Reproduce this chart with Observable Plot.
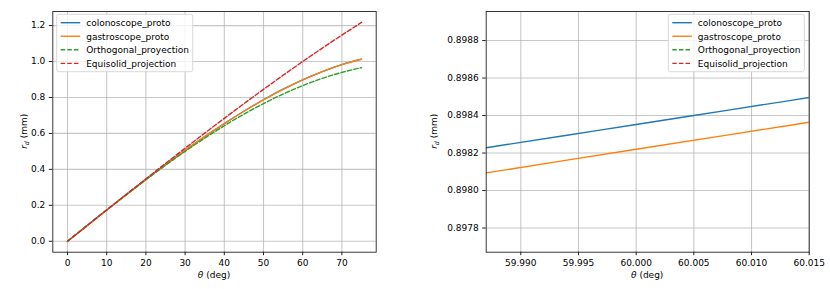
<!DOCTYPE html>
<html>
<head>
<meta charset="utf-8">
<script src="https://cdn.jsdelivr.net/npm/d3@7"></script>
<script src="https://cdn.jsdelivr.net/npm/@observablehq/plot@0.6"></script>
<style>
  html, body { margin: 0; padding: 0; background: white; }
  #wrap { position: relative; width: 830px; height: 289px; }
  #wrap > svg { position: absolute; top: 0; }
</style>
</head>
<body>
<div id="wrap"></div>
<script>
// ---- data ----
const seriesNames = ["colonoscope_proto", "gastroscope_proto", "Orthogonal_proyection", "Equisolid_projection"];
const seriesColors = ["#1f77b4", "#ff7f0e", "#2ca02c", "#d62728"];
const seriesDashed = [false, false, true, true];

const thetaDeg = [0, 5, 10, 15, 20, 25, 30, 35, 40, 45, 50, 55, 60, 65, 70, 75];
const colonoscopeR = [0, 0.08718, 0.17386, 0.25954, 0.34372, 0.42584, 0.50541, 0.58190, 0.65478, 0.72346, 0.78737, 0.84591, 0.89833, 0.94421, 0.98267, 1.01315];
const gastroscopeR = [0, 0.08718, 0.17386, 0.25954, 0.34370, 0.42583, 0.50540, 0.58188, 0.65473, 0.72338, 0.78724, 0.84572, 0.89819, 0.94402, 0.98253, 1.01301];
const orthogonalR  = [0, 0.08716, 0.17365, 0.25882, 0.34202, 0.42262, 0.50000, 0.57358, 0.64279, 0.70711, 0.76604, 0.81915, 0.86603, 0.90631, 0.93969, 0.96593];
const equisolidR   = [0, 0.08724, 0.17431, 0.26105, 0.34730, 0.43288, 0.51764, 0.60141, 0.68404, 0.76537, 0.84524, 0.92350, 1.00000, 1.07460, 1.14715, 1.21752];

// zoomed view near 60 deg
const thetaZoom = [59.987, 59.994, 60.000, 60.008, 60.015];
const colonoscopeZoom = [0.898228, 0.898295, 0.898352, 0.898429, 0.898496];
const gastroscopeZoom = [0.898094, 0.898162, 0.898220, 0.898297, 0.898364];

// ticks
const xTicksLeft = [0, 10, 20, 30, 40, 50, 60, 70];
const yTicksLeft = [0, 0.2, 0.4, 0.6, 0.8, 1.0, 1.2];
const xTicksRight = [59.990, 59.995, 60.000, 60.005, 60.010, 60.015];
const yTicksRight = [0.8978, 0.8980, 0.8982, 0.8984, 0.8986, 0.8988];

// ---- build tables ----
function table(xs, ys) { return xs.map((x, i) => ({x, y: ys[i]})); }
const leftSeries = [colonoscopeR, gastroscopeR, orthogonalR, equisolidR].map(ys => table(thetaDeg, ys));
const rightSeries = [colonoscopeZoom, gastroscopeZoom].map(ys => table(thetaZoom, ys));

const FONT = "DejaVu Sans, sans-serif";
const FS = 9;

function lineMarks(seriesList) {
  return seriesList.map((d, i) => Plot.line(d, {
    x: "x", y: "y", stroke: seriesColors[i], strokeWidth: 1.4,
    strokeDasharray: seriesDashed[i] ? "4.5,2.1" : null,
    curve: "monotone-x", clip: true
  }));
}

function makePlot(opts) {
  return Plot.plot({
    width: 415, height: 289,
    marginLeft: opts.ml, marginRight: opts.mr, marginTop: 11, marginBottom: 37.3,
    style: { fontFamily: FONT, fontSize: FS + "px", color: "#000", background: "transparent", overflow: "visible" },
    x: { domain: opts.xd, label: null },
    y: { domain: opts.yd, label: null },
    marks: [
      Plot.gridX(opts.xt, { stroke: "#b0b0b0", strokeOpacity: 0.7, strokeWidth: 1.1 }),
      Plot.gridY(opts.yt, { stroke: "#b0b0b0", strokeOpacity: 0.7, strokeWidth: 1.1 }),
      ...lineMarks(opts.series),
      Plot.frame({ stroke: "#222", strokeWidth: 0.9 }),
      Plot.axisX(opts.xt, { tickSize: 3.5, tickPadding: 3.5, tickFormat: opts.xf, stroke: "#222", fontSize: FS }),
      Plot.axisY(opts.yt, { tickSize: 3.5, tickPadding: 4, tickFormat: opts.yf, stroke: "#222", fontSize: FS })
    ]
  });
}

function addLabels(svg, xc, xlY, ylX, ylY) {
  const s = d3.select(svg);
  const xl = s.append("text").attr("x", xc).attr("y", xlY).attr("text-anchor", "middle")
    .attr("font-family", FONT).attr("font-size", FS).attr("fill", "#000");
  xl.append("tspan").attr("font-style", "italic").text("θ");
  xl.append("tspan").text(" (deg)");
  const yl = s.append("text").attr("transform", `translate(${ylX},${ylY}) rotate(-90)`)
    .attr("text-anchor", "middle").attr("font-family", FONT).attr("font-size", FS).attr("fill", "#000");
  yl.append("tspan").attr("font-style", "italic").text("r");
  yl.append("tspan").attr("font-style", "italic").attr("font-size", FS * 0.7).attr("dy", 2).text("d");
  yl.append("tspan").attr("dy", -2).text(" (mm)");
}

function addLegend(svg, x0, y0, w) {
  const s = d3.select(svg);
  const g = s.append("g").attr("text-anchor", "start");
  g.append("rect").attr("x", x0).attr("y", y0).attr("width", w).attr("height", 57.4)
    .attr("rx", 2).attr("fill", "white").attr("fill-opacity", 0.8)
    .attr("stroke", "#d5d5d5").attr("stroke-width", 0.9);
  seriesNames.forEach((name, i) => {
    const cy = y0 + 8.4 + i * 13.55;
    g.append("line").attr("x1", x0 + 4).attr("x2", x0 + 23.5).attr("y1", cy).attr("y2", cy)
      .attr("stroke", seriesColors[i]).attr("stroke-width", 1.4)
      .attr("stroke-dasharray", seriesDashed[i] ? "4.5,2.1" : null);
    g.append("text").attr("x", x0 + 29.5).attr("y", cy + 3.3).attr("text-anchor", "start")
      .attr("font-family", FONT).attr("font-size", FS).attr("fill", "#000").text(name);
  });
}

const wrap = document.getElementById("wrap");

const left = makePlot({
  ml: 52.3, mr: 415 - 375.7,
  xd: [-3.75, 78.75], yd: [-0.06088, 1.2784],
  xt: xTicksLeft, yt: yTicksLeft, xf: d3.format("d"), yf: d3.format(".1f"),
  series: leftSeries
});
left.style.left = "0px";
wrap.appendChild(left);
addLabels(left, 214, 277.8, 27, 131.3);
addLegend(left, 56.7, 14.3, 136);

const right = makePlot({
  ml: 485.7 - 415, mr: 830 - 808.7,
  xd: [59.987, 60.015], yd: [0.897671, 0.898955],
  xt: xTicksRight, yt: yTicksRight, xf: d3.format(".3f"), yf: d3.format(".4f"),
  series: rightSeries
});
right.style.left = "415px";
wrap.appendChild(right);
addLabels(right, 647.2 - 415, 277.8, 21.6, 131.3);
addLegend(right, 668.3 - 415, 14.3, 136);
</script>
</body>
</html>
